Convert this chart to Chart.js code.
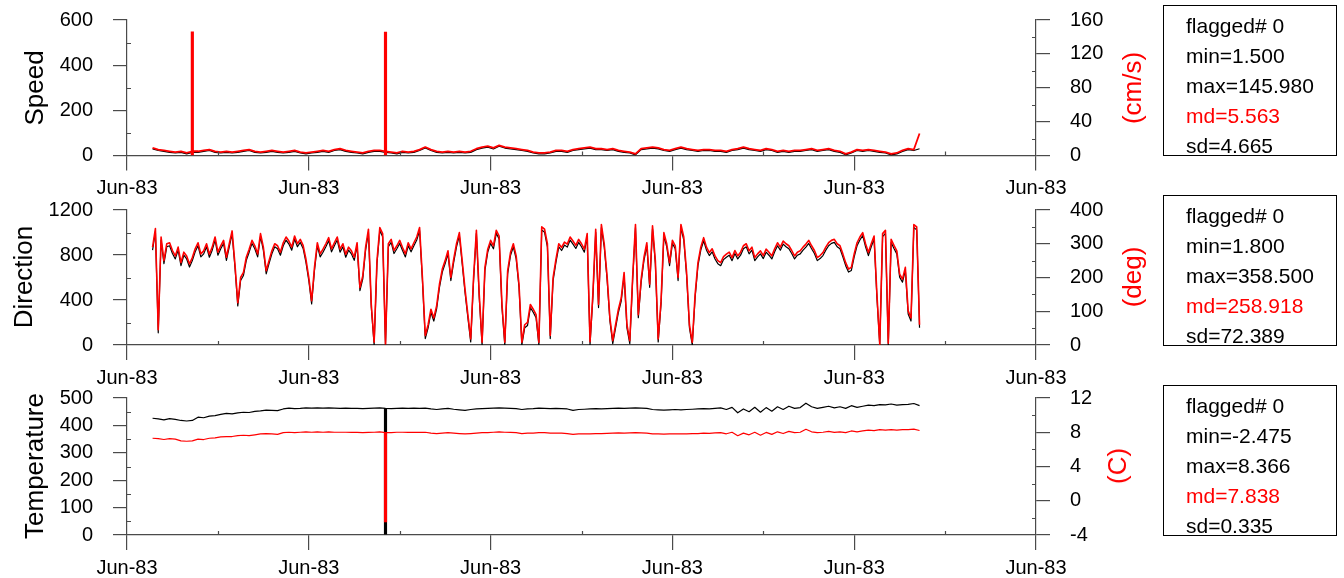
<!DOCTYPE html>
<html><head><meta charset="utf-8">
<script src="https://cdn.jsdelivr.net/npm/chart.js@4.4.1/dist/chart.umd.min.js"></script>
<style>
html,body{margin:0;padding:0;background:#fff;width:1344px;height:578px;overflow:hidden;font-family:'Liberation Sans',Arial,sans-serif;}
canvas{position:absolute;left:0;}
.t{position:absolute;transform:translate(-50%,-50%) rotate(-90deg);white-space:nowrap;font-size:26px;line-height:1;}
.box{position:absolute;left:1163px;width:172px;height:149px;border:1px solid #000;font-size:21px;line-height:30px;}
.box div{position:absolute;left:22px;white-space:nowrap;}
</style></head><body>
<canvas id="c1" width="1344" height="195" style="top:0px"></canvas>
<canvas id="c2" width="1344" height="195" style="top:190px"></canvas>
<canvas id="c3" width="1344" height="200" style="top:378px"></canvas>
<div id="overlay"></div>
<script>
// ---------------- DATA ----------------
const xTickLabels = ['Jun-83','Jun-83','Jun-83','Jun-83','Jun-83','Jun-83'];

// Speed: red = cm/s (right axis), black = left axis
const speedRed = [9,7,6,5,4,5,3,5,5,6, 7,5,4,5,4,5,6,7,5,4, 5,6,5,4,5,6,4,3,4,5, 6,5,7,8,6,5,4,3,5,6,
  6,5,4,3,5,4,5,7,10,7, 5,4,5,4,5,4,5,8,10,11, 9,12,10,9,8,7,6,4,3,3, 4,6,6,5,7,8,9,10,8,8,
  7,8,6,5,4,2,8,9,10,9, 7,6,8,10,8,7,6,7,7,6, 6,5,7,8,10,8,7,6,8,7, 5,6,5,6,6,7,8,6,7,8,
  6,5,2,4,7,6,7,6,5,4, 2,3,6,8,7,26];
const speedBlack = [29,22,18,14,11,14,7,14,14,18, 22,14,11,14,11,14,18,22,14,11, 14,18,14,11,14,18,11,7,11,14,
  18,14,22,26,18,14,11,7,14,18, 18,14,11,7,14,11,14,22,33,22, 14,11,14,11,14,11,14,26,33,37,
  29,41,33,29,26,22,18,11,7,7, 11,18,18,14,22,26,29,33,26,26, 22,26,18,14,11,3,26,29,33,29,
  22,18,26,33,26,22,18,22,22,18, 18,14,22,26,33,26,22,18,26,22, 14,18,14,18,18,22,26,18,22,26,
  18,14,3,11,22,18,22,18,14,11, 3,7,18,26,22,30];
const speedSpikeIdx = [7, 41];
const speedSpikeVal = [145.98, 145.6];

// Direction (twice the sampling density): red = deg (right axis), black = left axis
const dirRed = [290,345,45,320,250,300,303,280,264,290, 244,275,264,240,259,285,303,270,279,300,
  269,290,320,275,294,310,260,300,338,240, 125,200,215,260,284,310,294,270,330,290,
  220,250,279,300,294,275,303,320,308,290, 323,300,313,295,254,200,131,230,303,270,
  284,300,318,285,303,320,284,300,269,290, 279,260,303,170,205,290,343,120,8,250,
  348,330,3,300,313,280,294,310,289,270, 303,285,303,320,348,200,28,60,106,80,
  116,180,225,250,279,200,254,300,333,250, 165,90,18,200,340,150,8,230,284,310,
  294,340,323,120,8,220,274,300,264,180, 8,60,67,120,106,90,8,350,343,300,
  28,200,254,300,289,305,299,320,308,295, 313,300,284,330,10,150,343,120,357,300,
  205,80,13,60,106,140,215,60,13,200, 357,90,195,260,303,180,353,250,18,130,
  333,300,244,310,294,200,357,320,215,60, 8,150,244,290,318,290,274,285,264,250,
  244,262,269,275,259,280,264,275,294,300, 279,290,259,270,279,265,284,275,264,285,
  303,290,308,300,294,280,264,275,279,290, 299,310,294,280,259,265,274,290,303,310,
  313,300,294,270,244,225,230,270,303,320, 333,300,274,300,323,150,2,330,340,5,
  313,295,279,210,195,230,101,80,357,350, 60];
const dirBlack = [843,1008,108,933,723,873,882,813,765,843, 705,798,765,693,750,828,882,783,810,873,
  780,843,933,798,855,903,753,873,987,693, 348,573,618,753,825,903,855,783,963,843,
  633,723,810,873,855,798,882,933,897,843, 942,873,912,858,735,573,366,663,882,783,
  825,873,927,828,882,933,825,873,780,843, 810,753,882,483,588,843,1002,333,0,723,
  1017,963,0,873,912,813,855,903,840,783, 882,828,882,933,1017,573,57,153,291,213,
  321,513,648,723,810,573,735,873,972,723, 468,243,27,573,993,423,0,663,825,903,
  855,993,942,333,0,633,795,873,765,513, 0,153,174,333,291,243,0,1023,1002,873,
  57,573,735,873,840,888,870,933,897,858, 912,873,825,963,3,423,1002,333,1044,873,
  588,213,12,153,291,393,618,153,12,573, 1044,243,558,753,882,513,1032,723,27,363,
  972,873,705,903,855,573,1044,933,618,153, 0,423,705,843,927,843,795,828,765,723,
  705,759,780,798,750,813,765,798,855,873, 810,843,750,783,810,768,825,798,765,828,
  882,843,897,873,855,813,765,798,810,843, 870,903,855,813,750,768,795,843,882,903,
  912,873,855,783,705,648,663,783,882,933, 972,873,795,873,942,423,0,963,993,0,
  912,858,810,603,558,663,276,213,1044,1023, 153];

// Temperature: red = C (right axis), black = left axis
const tempRed = [7.3,7.25,7.15,7.25,7.2,7.0,6.95,7.0,7.2,7.15, 7.3,7.35,7.45,7.5,7.5,7.6,7.65,7.6,7.7,7.8,
  7.85,7.8,7.75,7.95,8.0,7.95,8.0,8.05,8.0,8.05, 8.0,8.05,8.0,8.0,8.0,7.98,7.98,7.95,7.98,8.0,
  8.05,7.95,7.95,8.0,8.0,7.98,8.0,7.98,8.0,7.9, 7.85,7.9,7.95,7.9,7.85,7.8,7.85,7.9,7.95,7.95,
  8.0,8.05,8.0,7.98,7.95,7.85,7.9,7.9,7.95,7.95, 7.9,7.9,7.9,7.85,7.75,7.8,7.8,7.82,7.85,7.85,
  7.88,7.9,7.92,7.9,7.92,7.95,7.92,7.9,7.82,7.8, 7.78,7.8,7.82,7.8,7.82,7.85,7.85,7.9,7.88,7.92,
  7.95,7.82,8.0,7.6,7.9,7.7,8.0,7.65,7.98,7.75, 8.05,7.85,8.1,7.95,8.0,8.35,8.05,7.95,8.0,8.1,
  7.98,8.05,7.95,8.15,8.05,8.15,8.25,8.2,8.3,8.25, 8.3,8.25,8.3,8.3,8.37,8.2];
const tempBlack = [426,424,420,425,422,418,416,418,430,428, 434,436,440,444,442,446,448,447,451,453,
  456,455,454,460,463,461,462,464,463,464, 463,464,463,462,463,462,462,461,462,463,
  464,462,461,462,463,462,463,462,463,460, 458,460,462,459,457,455,458,460,461,462,
  463,464,463,462,461,458,460,461,463,462, 461,462,461,460,455,458,459,460,461,460,
  461,462,463,462,463,464,463,462,458,457, 456,457,458,457,458,459,460,461,460,462,
  464,458,466,446,460,450,466,448,465,452, 468,458,470,462,465,481,468,462,466,470,
  464,468,462,472,466,470,474,472,476,475, 478,474,476,477,480,472];
const tempSpikeIdx = [41];
const tempSpikeRedLow = [-2.475];
const tempSpikeBlackLow = [3];

const statsSpeed = ['flagged# 0','min=1.500','max=145.980','md=5.563','sd=4.665'];
const statsDir   = ['flagged# 0','min=1.800','max=358.500','md=258.918','sd=72.389'];
const statsTemp  = ['flagged# 0','min=-2.475','max=8.366','md=7.838','sd=0.335'];

const sampleStart = 4.5;   // time of first sample (axis units)
const stepSpeed = 1, stepDir = 0.5, stepTemp = 1;   // sampling interval per record
// -------------------------------------

const FONT = "'Liberation Sans', Arial, sans-serif";
const AX = '#4a4a4a';
const RED = '#ff0000';

function pts(arr, step){ return arr.map((v,i)=>({x: sampleStart+i*step, y: v})); }
function spikePts(idx, low, series, step){ return idx.map((k,j)=>({x: sampleStart+k*step, y:[low[j], series[k]]})); }

const minorPlugin = {
  id:'minor',
  afterDraw(chart){
    const ctx=chart.ctx, a=chart.chartArea;
    const sL=chart.scales.yL, sR=chart.scales.yR, sx=chart.scales.x;
    const lStep=chart.options.scales.yL.ticks.stepSize, rStep=chart.options.scales.yR.ticks.stepSize, xStep=chart.options.scales.x.ticks.stepSize;
    ctx.save(); ctx.strokeStyle=AX; ctx.lineWidth=1.2; ctx.beginPath();
    for (let v=sL.min+lStep/2; v<sL.max; v+=lStep){ const y=Math.round(sL.getPixelForValue(v))+0.5; ctx.moveTo(a.left,y); ctx.lineTo(a.left+4,y); }
    for (let v=sR.min+rStep/2; v<sR.max; v+=rStep){ const y=Math.round(sR.getPixelForValue(v))+0.5; ctx.moveTo(a.right,y); ctx.lineTo(a.right-4,y); }
    for (let v=sx.min+xStep/2; v<sx.max; v+=xStep){ const x=Math.round(sx.getPixelForValue(v))+0.5; ctx.moveTo(x,a.bottom); ctx.lineTo(x,a.bottom-4); }
    ctx.stroke(); ctx.restore();
  }
};

function yScale(pos, min, max, step, width){
  return {
    type:'linear', position:pos, min:min, max:max,
    ticks:{stepSize:step, autoSkip:false, padding:20, color:'#000', font:{family:FONT, size:20}, callback:(v)=>String(v)},
    grid:{display:true, drawOnChartArea:false, drawTicks:true, tickLength:14, color:AX, lineWidth:1.2},
    border:{display:true, color:AX, width:1.2},
    afterFit:(s)=>{ s.width = width; s.paddingTop = 0; s.paddingBottom = 0; }
  };
}

function makePanel(id, cfg){
  const datasets = [];
  if (cfg.redSpikes) datasets.push({type:'bar', data:cfg.redSpikes, yAxisID:'yR', backgroundColor:RED, barThickness:2.5, grouped:false, order:0, borderWidth:0});
  datasets.push({type:'line', data:pts(cfg.red, cfg.step), yAxisID:'yR', borderColor:RED, borderWidth:cfg.redW, pointRadius:0, tension:0, borderJoinStyle:'round', order:1});
  if (cfg.blackSpikes) datasets.push({type:'bar', data:cfg.blackSpikes, yAxisID:'yL', backgroundColor:'#000', barThickness:2.5, grouped:false, order:2, borderWidth:0});
  datasets.push({type:'line', data:pts(cfg.black, cfg.step), yAxisID:'yL', borderColor:'#000', borderWidth:cfg.blackW, pointRadius:0, tension:0, borderJoinStyle:'round', order:3});
  new Chart(document.getElementById(id), {
    type:'line',
    data:{datasets},
    options:{
      responsive:false, animation:false, events:[],
      layout:{padding:{top:cfg.top, left:0, right:0, bottom:0}},
      plugins:{legend:{display:false}, tooltip:{enabled:false}},
      scales:{
        x:{type:'linear', position:'bottom', min:0, max:160, offset:false,
           ticks:{stepSize:32, autoSkip:false, maxRotation:0, padding:cfg.xPad, color:'#000', font:{family:FONT, size:20},
                  callback:(v,i)=>xTickLabels[i]},
           grid:{display:true, drawOnChartArea:false, drawTicks:true, tickLength:15, color:AX, lineWidth:1.2, offset:false},
           border:{display:true, color:AX, width:1.2},
           afterFit:(s)=>{ s.height = cfg.xH; }},
        yL: yScale('left', cfg.lMin, cfg.lMax, cfg.lStep, 127),
        yR: yScale('right', cfg.rMin, cfg.rMax, cfg.rStep, 308)
      }
    },
    plugins:[minorPlugin]
  });
}

makePanel('c1', {top:20, xH:39.5, xPad:6, step:stepSpeed, red:speedRed, black:speedBlack, redW:1.8, blackW:1.2,
  redSpikes: speedSpikeIdx.map((k,j)=>({x:sampleStart+k*stepSpeed, y:[0, speedSpikeVal[j]]})),
  lMin:0, lMax:600, lStep:200, rMin:0, rMax:160, rStep:40});
makePanel('c2', {top:20, xH:40, xPad:6, step:stepDir, red:dirRed, black:dirBlack, redW:1.6, blackW:1.2,
  lMin:0, lMax:1200, lStep:400, rMin:0, rMax:400, rStep:100});
makePanel('c3', {top:20, xH:43, xPad:6, step:stepTemp, red:tempRed, black:tempBlack, redW:1.2, blackW:1.2,
  redSpikes: spikePts(tempSpikeIdx, tempSpikeRedLow, tempRed, stepTemp),
  blackSpikes: spikePts(tempSpikeIdx, tempSpikeBlackLow, tempBlack, stepTemp),
  lMin:0, lMax:500, lStep:100, rMin:-4, rMax:12, rStep:4});

// ---- titles and stats boxes (HTML text) ----
const ov = document.getElementById('overlay');
function title(text, cx, cy, color){
  const d=document.createElement('div'); d.className='t'; d.textContent=text;
  d.style.left=cx+'px'; d.style.top=cy+'px'; d.style.color=color; ov.appendChild(d);
}
function box(lines, top){
  const b=document.createElement('div'); b.className='box'; b.style.top=top+'px';
  lines.forEach((s,k)=>{ const d=document.createElement('div'); d.textContent=s; d.style.top=(5+k*30)+'px';
    d.style.color = s.startsWith('md=') ? RED : '#000'; b.appendChild(d); });
  ov.appendChild(b);
}
title('Speed', 34, 88, '#000');
title('Direction', 23, 277, '#000');
title('Temperature', 34, 466, '#000');
title('(cm/s)', 1132, 88, RED);
title('(deg)', 1132, 277, RED);
title('(C)', 1117, 466, RED);
box(statsSpeed, 5);
box(statsDir, 195);
box(statsTemp, 385);
</script>
</body></html>
